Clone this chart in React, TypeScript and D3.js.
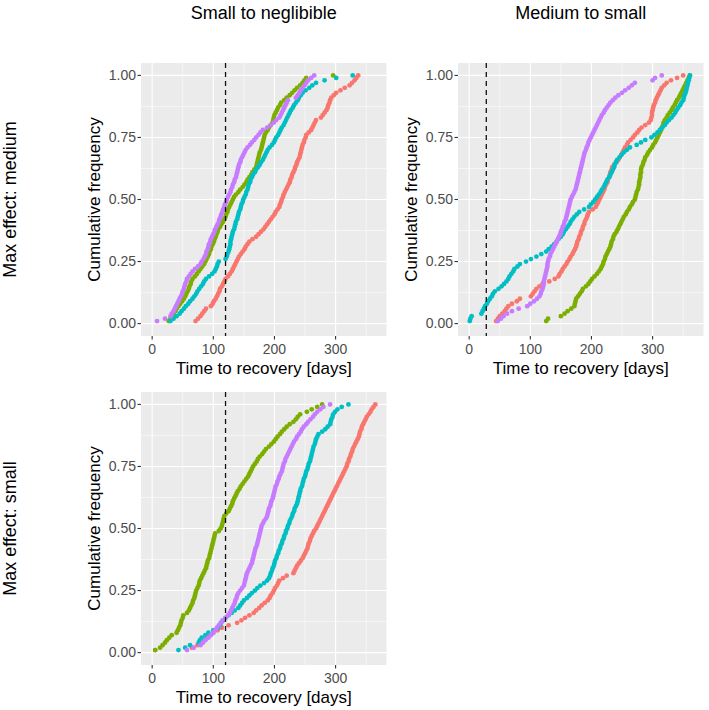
import React from 'react';
import * as d3 from 'd3';

// series colours (ggplot default hue palette, 4 groups)
const colors = ['#F8766D', '#7CAE00', '#00BFC4', '#C77CFF'];

const colTitles = ['Small to neglibible', 'Medium to small'];
const rowTitles = ['Max effect: medium', 'Max effect: small'];
const xTitle = 'Time to recovery [days]';
const yTitle = 'Cumulative frequency';

const xTicks = [0, 100, 200, 300];
const xMinor = [50, 150, 250, 350];
const yTicks = [0, 0.25, 0.5, 0.75, 1];
const yMinor = [0.125, 0.375, 0.625, 0.875];
const yTickLabels = ['0.00', '0.25', '0.50', '0.75', '1.00'];

// dashed reference lines (days) per panel
const thresholds = [120, 28, 120];

// recovery times, sorted, per series — panel "Small to neglibible" / medium
const p1Red = [71, 75, 79, 82, 85, 88, 96, 99, 101, 104, 106, 108, 110, 111, 114, 116, 118, 120, 124, 127,
  130, 132, 134, 136, 138, 140, 142, 145, 148, 151, 153, 156, 159, 164, 170, 174, 178, 182, 185, 188,
  191, 194, 197, 200, 202, 205, 208, 209, 211, 212, 214, 215, 217, 219, 221, 223, 225, 226, 228, 229,
  231, 233, 234, 236, 237, 239, 241, 242, 243, 244, 245, 246, 248, 249, 251, 252, 256, 260, 262, 264,
  266, 268, 276, 279, 282, 285, 287, 288, 290, 291, 293, 297, 301, 308, 315, 323, 327, 331, 334, 337];
const p1Green = [27, 30, 33, 35, 38, 40, 43, 46, 49, 52, 54, 56, 58, 60, 61, 63, 64, 66, 70, 73,
  76, 79, 82, 85, 87, 89, 91, 93, 94, 96, 97, 99, 101, 102, 104, 105, 107, 108, 111, 113,
  116, 118, 120, 121, 123, 124, 126, 128, 130, 132, 134, 137, 141, 144, 148, 151, 154, 156, 159, 162,
  164, 167, 170, 171, 172, 173, 174, 175, 176, 178, 179, 180, 181, 182, 183, 184, 186, 189, 191, 194,
  197, 198, 199, 200, 202, 204, 206, 209, 211, 216, 220, 225, 229, 233, 237, 242, 246, 249, 252, 296];
const p1Cyan = [30, 35, 40, 45, 48, 52, 55, 59, 62, 66, 69, 72, 74, 77, 80, 83, 85, 88, 93, 98,
  102, 104, 106, 107, 109, 120, 122, 123, 125, 126, 127, 128, 128, 129, 130, 131, 132, 134, 135, 136,
  137, 139, 140, 141, 142, 144, 145, 146, 148, 149, 151, 153, 154, 156, 157, 158, 160, 161, 163, 165,
  168, 170, 173, 176, 178, 181, 183, 185, 187, 189, 192, 196, 199, 201, 203, 206, 208, 210, 212, 215,
  217, 219, 221, 223, 225, 227, 230, 232, 235, 238, 240, 243, 246, 251, 257, 262, 268, 282, 301, 328];
const p1Purple = [8, 21, 30, 32, 35, 37, 39, 41, 43, 45, 47, 49, 50, 52, 53, 54, 56, 57, 60, 63,
  66, 70, 75, 79, 81, 84, 86, 88, 89, 91, 92, 93, 95, 96, 98, 100, 102, 103, 105, 107,
  109, 110, 112, 113, 115, 116, 118, 119, 121, 122, 124, 126, 128, 129, 131, 132, 134, 135, 137, 138,
  139, 140, 141, 142, 144, 145, 147, 149, 151, 153, 156, 160, 163, 167, 170, 174, 177, 181, 188, 194,
  199, 203, 208, 210, 212, 214, 216, 218, 220, 222, 235, 238, 241, 243, 246, 249, 252, 255, 260, 265];

// panel "Medium to small" / medium
const p2Red = [44, 47, 50, 54, 58, 61, 64, 70, 78, 83, 101, 104, 107, 110, 115, 120, 131, 140, 146, 148,
  151, 153, 156, 159, 161, 164, 166, 169, 171, 173, 175, 176, 177, 179, 180, 182, 183, 185, 186, 188,
  189, 191, 193, 194, 196, 202, 207, 209, 211, 213, 215, 217, 219, 221, 222, 224, 226, 227, 229, 230,
  231, 233, 234, 237, 241, 244, 246, 249, 251, 253, 255, 258, 260, 264, 268, 271, 275, 278, 282, 288,
  294, 297, 298, 299, 299, 300, 301, 302, 304, 305, 307, 309, 311, 313, 315, 319, 323, 330, 340, 350];
const p2Green = [126, 129, 150, 156, 161, 167, 172, 173, 174, 175, 178, 181, 184, 186, 191, 195, 198, 201, 205, 209,
  212, 215, 217, 219, 220, 222, 223, 225, 227, 229, 231, 232, 233, 235, 236, 238, 241, 243, 245, 247,
  249, 251, 253, 256, 258, 261, 263, 266, 268, 271, 272, 273, 274, 276, 277, 278, 278, 279, 280, 280,
  281, 281, 282, 284, 285, 287, 288, 291, 293, 296, 299, 301, 304, 306, 308, 310, 312, 314, 315, 317,
  318, 320, 323, 325, 328, 331, 333, 336, 338, 340, 343, 345, 347, 349, 351, 353, 355, 357, 359, 361];
const p2Cyan = [1, 2, 4, 20, 22, 24, 26, 29, 31, 34, 37, 39, 42, 48, 53, 57, 61, 64, 66, 69,
  72, 74, 79, 83, 93, 101, 110, 118, 126, 130, 135, 139, 143, 146, 150, 153, 155, 158, 161, 164,
  166, 169, 172, 176, 180, 188, 196, 199, 203, 206, 209, 212, 215, 217, 220, 222, 224, 226, 229, 231,
  233, 235, 237, 238, 240, 242, 246, 249, 253, 258, 263, 274, 281, 288, 298, 303, 308, 312, 316, 320,
  323, 327, 331, 334, 337, 339, 342, 345, 347, 350, 351, 352, 354, 355, 356, 357, 358, 359, 360, 361];
const p2Purple = [47, 52, 56, 62, 70, 81, 95, 100, 106, 111, 115, 117, 118, 120, 121, 122, 122, 123, 124, 125,
  126, 127, 128, 128, 129, 130, 132, 133, 135, 137, 139, 141, 143, 145, 147, 149, 150, 152, 153, 155,
  156, 158, 159, 160, 161, 162, 163, 164, 165, 166, 168, 170, 172, 174, 175, 176, 177, 178, 179, 180,
  181, 182, 183, 184, 185, 186, 187, 188, 189, 191, 192, 194, 195, 197, 199, 201, 203, 205, 207, 209,
  211, 213, 215, 217, 220, 222, 225, 228, 231, 235, 239, 244, 250, 255, 261, 266, 271, 300, 304, 315];

// panel "Small to neglibible" / small
const p3Red = [5, 65, 74, 82, 86, 89, 94, 100, 107, 114, 125, 139, 146, 152, 159, 166, 170, 175, 179, 184,
  189, 192, 194, 197, 199, 201, 204, 206, 208, 214, 220, 231, 233, 235, 237, 240, 243, 246, 248, 250,
  252, 254, 255, 256, 258, 259, 261, 263, 265, 268, 270, 272, 274, 276, 278, 280, 282, 284, 286, 288,
  290, 292, 294, 296, 298, 300, 302, 304, 306, 308, 310, 312, 314, 316, 318, 319, 321, 322, 324, 325,
  327, 328, 330, 332, 334, 336, 338, 339, 340, 342, 343, 345, 347, 349, 351, 354, 357, 359, 362, 365];
const p3Green = [5, 13, 17, 21, 24, 28, 32, 40, 42, 44, 46, 47, 48, 50, 51, 57, 60, 62, 64, 66,
  67, 69, 70, 71, 72, 74, 76, 77, 78, 80, 82, 84, 86, 88, 89, 90, 91, 93, 94, 95,
  96, 97, 98, 99, 100, 101, 102, 103, 109, 112, 114, 115, 116, 117, 118, 121, 125, 127, 129, 131,
  132, 134, 136, 138, 140, 143, 145, 148, 151, 154, 157, 159, 161, 163, 165, 168, 171, 173, 176, 180,
  183, 186, 191, 195, 199, 202, 205, 209, 212, 216, 220, 225, 231, 235, 238, 242, 253, 261, 270, 278];
const p3Cyan = [43, 54, 62, 76, 78, 81, 87, 92, 100, 108, 111, 113, 116, 120, 125, 130, 135, 141, 144, 147,
  150, 155, 159, 163, 168, 172, 177, 183, 188, 191, 193, 194, 196, 197, 199, 200, 201, 203, 204, 206,
  207, 209, 210, 212, 213, 215, 216, 218, 219, 221, 222, 224, 225, 227, 229, 230, 232, 233, 235, 237,
  238, 239, 240, 241, 242, 243, 245, 246, 247, 248, 250, 251, 252, 254, 255, 256, 258, 259, 260, 261,
  262, 263, 264, 266, 267, 268, 270, 272, 278, 283, 287, 291, 292, 293, 295, 296, 299, 303, 310, 321];
const p3Purple = [57, 68, 79, 83, 87, 92, 96, 100, 103, 106, 109, 112, 115, 120, 124, 127, 129, 131, 133, 135,
  136, 138, 139, 141, 144, 147, 150, 151, 152, 153, 154, 155, 157, 159, 161, 163, 164, 165, 166, 167,
  168, 169, 171, 172, 173, 174, 175, 176, 177, 178, 179, 181, 183, 186, 188, 189, 190, 191, 193, 194,
  195, 197, 198, 199, 200, 201, 202, 204, 205, 207, 208, 210, 212, 213, 214, 215, 217, 218, 220, 222,
  224, 226, 228, 230, 232, 235, 237, 240, 243, 245, 248, 252, 255, 259, 263, 266, 270, 275, 280, 291];

const font = "'Liberation Sans', Arial, Helvetica, sans-serif";
const xDomain: [number, number] = [-18.25, 383.25];
const yDomain: [number, number] = [-0.05, 1.05];

type PanelProps = {
  left: number;
  top: number;
  width: number;
  height: number;
  series: number[][];
  threshold: number;
};

function Panel({left, top, width, height, series, threshold}: PanelProps) {
  const x = d3.scaleLinear().domain(xDomain).range([left, left + width]);
  const y = d3.scaleLinear().domain(yDomain).range([top + height, top]);
  const bottom = top + height;

  return (
    <g>
      <rect x={left} y={top} width={width} height={height} fill="#EBEBEB" />
      {xMinor.map(t => (
        <line key={'xm' + t} x1={x(t)} x2={x(t)} y1={top} y2={bottom} stroke="#fff" strokeWidth={0.55} />
      ))}
      {yMinor.map(t => (
        <line key={'ym' + t} x1={left} x2={left + width} y1={y(t)} y2={y(t)} stroke="#fff" strokeWidth={0.55} />
      ))}
      {xTicks.map(t => (
        <line key={'xg' + t} x1={x(t)} x2={x(t)} y1={top} y2={bottom} stroke="#fff" strokeWidth={1.1} />
      ))}
      {yTicks.map(t => (
        <line key={'yg' + t} x1={left} x2={left + width} y1={y(t)} y2={y(t)} stroke="#fff" strokeWidth={1.1} />
      ))}

      {series.map((s, si) => {
        const n = s.length;
        return (
          <g key={'s' + si} fill={colors[si]}>
            {s.map((d, i) => (
              <circle key={i} cx={x(d)} cy={y((i + 1) / n)} r={2.4} />
            ))}
          </g>
        );
      })}

      <line x1={x(threshold)} x2={x(threshold)} y1={top} y2={bottom}
        stroke="#111" strokeWidth={1.3} strokeDasharray="5,4" />

      {/* axes */}
      {xTicks.map(t => (
        <g key={'xt' + t}>
          <line x1={x(t)} x2={x(t)} y1={bottom} y2={bottom + 3.5} stroke="#333" strokeWidth={1.1} />
          <text x={x(t)} y={bottom + 18} textAnchor="middle" fontSize={14} fill="#4D4D4D" fontFamily={font}>{t}</text>
        </g>
      ))}
      {yTicks.map((t, i) => (
        <g key={'yt' + t}>
          <line x1={left - 3.5} x2={left} y1={y(t)} y2={y(t)} stroke="#333" strokeWidth={1.1} />
          <text x={left - 5} y={y(t)} dy="0.35em" textAnchor="end" fontSize={14} fill="#4D4D4D" fontFamily={font}>{yTickLabels[i]}</text>
        </g>
      ))}
      <text x={left + width / 2} y={bottom + 38} textAnchor="middle" fontSize={17} fill="#000" fontFamily={font}>{xTitle}</text>
      <text transform={`translate(${left - 41},${top + height / 2}) rotate(-90)`} textAnchor="middle"
        fontSize={17} fill="#000" fontFamily={font}>{yTitle}</text>
    </g>
  );
}

export default function App() {
  const W = 709, H = 710;
  const pw = 245.5, ph = 273;
  const cols = [141, 458];
  const rows = [63, 392];

  return (
    <svg width={W} height={H} style={{position: 'absolute', left: 0, top: 0, background: '#fff'}}>
      <rect width={W} height={H} fill="#fff" />
      {colTitles.map((t, i) => (
        <text key={t} x={cols[i] + pw / 2} y={19} textAnchor="middle" fontSize={18} fontFamily={font}>{t}</text>
      ))}
      {rowTitles.map((t, i) => (
        <text key={t} transform={`translate(16,${rows[i] + ph / 2}) rotate(-90)`} textAnchor="middle"
          fontSize={18} fontFamily={font}>{t}</text>
      ))}
      <Panel left={cols[0]} top={rows[0]} width={pw} height={ph}
        series={[p1Red, p1Green, p1Cyan, p1Purple]} threshold={thresholds[0]} />
      <Panel left={cols[1]} top={rows[0]} width={pw} height={ph}
        series={[p2Red, p2Green, p2Cyan, p2Purple]} threshold={thresholds[1]} />
      <Panel left={cols[0]} top={rows[1]} width={pw} height={ph}
        series={[p3Red, p3Green, p3Cyan, p3Purple]} threshold={thresholds[2]} />
    </svg>
  );
}
